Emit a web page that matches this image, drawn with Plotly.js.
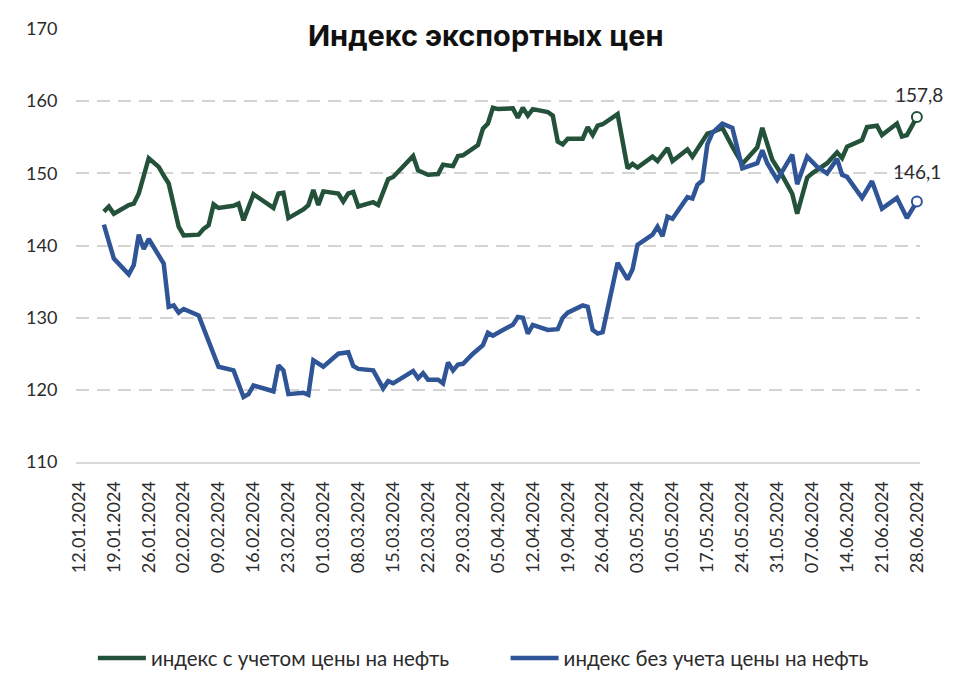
<!DOCTYPE html>
<html>
<head>
<meta charset="utf-8">
<script src="https://cdn.plot.ly/plotly-3.0.1.min.js"></script>
<style>html,body{margin:0;padding:0;background:#fff;}#chart{width:974px;height:687px;}</style>
</head>
<body>
<div id="chart"></div>
<script>
// ---- data ----
const chartTitle = "Индекс экспортных цен";
const seriesNames = ["индекс с учетом цены на нефть", "индекс без учета цены на нефть"];

const datesWithOil = [
 "2024-01-17","2024-01-18","2024-01-19","2024-01-22","2024-01-23","2024-01-24","2024-01-26","2024-01-28","2024-01-29","2024-01-30",
 "2024-02-01","2024-02-02","2024-02-05","2024-02-06","2024-02-07","2024-02-08","2024-02-09","2024-02-12","2024-02-13","2024-02-14",
 "2024-02-16","2024-02-20","2024-02-21","2024-02-22","2024-02-23","2024-02-26","2024-02-27","2024-02-28","2024-02-29","2024-03-01",
 "2024-03-04","2024-03-05","2024-03-06","2024-03-07","2024-03-08","2024-03-11","2024-03-12","2024-03-14","2024-03-15","2024-03-19",
 "2024-03-20","2024-03-22","2024-03-24","2024-03-25","2024-03-27","2024-03-28","2024-03-29","2024-04-01","2024-04-02","2024-04-03",
 "2024-04-04","2024-04-05","2024-04-08","2024-04-09","2024-04-10","2024-04-11","2024-04-12","2024-04-15","2024-04-16","2024-04-17",
 "2024-04-18","2024-04-19","2024-04-22","2024-04-23","2024-04-24","2024-04-25","2024-04-26","2024-04-29","2024-05-01","2024-05-02",
 "2024-05-03","2024-05-06","2024-05-07","2024-05-09","2024-05-10","2024-05-13","2024-05-14","2024-05-15","2024-05-17","2024-05-18",
 "2024-05-20","2024-05-22","2024-05-24","2024-05-27","2024-05-28","2024-05-30","2024-06-01","2024-06-03","2024-06-04","2024-06-06",
 "2024-06-07","2024-06-10","2024-06-12","2024-06-13","2024-06-14","2024-06-17","2024-06-18","2024-06-20","2024-06-21","2024-06-24",
 "2024-06-25","2024-06-26","2024-06-28"
];
const valuesWithOil = [
 144.7,145.4,144.4,145.6,145.8,147.2,152.1,150.9,149.7,148.6,
 142.6,141.4,141.5,142.3,142.8,145.7,145.2,145.5,145.8,143.5,
 147.1,145.2,147.2,147.3,143.8,145.0,145.6,147.7,145.6,147.5,
 147.2,146.1,147.2,147.4,145.4,146.0,145.6,149.2,149.5,152.4,
 150.4,149.8,149.9,151.2,151.0,152.4,152.5,153.9,156.2,156.9,
 159.1,158.9,159.0,157.7,159.1,158.0,158.9,158.5,158.0,154.4,
 154.0,154.8,154.8,156.4,155.3,156.6,156.8,158.2,150.7,151.3,
 150.8,152.3,151.7,153.5,151.7,153.3,152.3,153.3,155.5,155.7,
 156.3,153.7,151.3,153.6,156.3,151.9,149.7,147.2,144.4,149.4,
 150.0,151.4,152.9,152.1,153.7,154.6,156.4,156.6,155.3,156.9,
 155.1,155.3,157.8
];

const datesNoOil = [
 "2024-01-17","2024-01-19","2024-01-22","2024-01-23","2024-01-24","2024-01-25","2024-01-26","2024-01-29","2024-01-30","2024-01-31",
 "2024-02-01","2024-02-02","2024-02-05","2024-02-09","2024-02-12","2024-02-14","2024-02-15","2024-02-16","2024-02-20","2024-02-21",
 "2024-02-22","2024-02-23","2024-02-26","2024-02-27","2024-02-28","2024-03-01","2024-03-04","2024-03-06","2024-03-07","2024-03-08",
 "2024-03-11","2024-03-13","2024-03-14","2024-03-15","2024-03-19","2024-03-20","2024-03-21","2024-03-22","2024-03-24","2024-03-25",
 "2024-03-26","2024-03-27","2024-03-28","2024-03-29","2024-03-31","2024-04-02","2024-04-03","2024-04-04","2024-04-06","2024-04-08",
 "2024-04-09","2024-04-10","2024-04-11","2024-04-12","2024-04-15","2024-04-17","2024-04-18","2024-04-19","2024-04-22","2024-04-23",
 "2024-04-24","2024-04-25","2024-04-26","2024-04-29","2024-05-01","2024-05-02","2024-05-03","2024-05-06","2024-05-07","2024-05-08",
 "2024-05-09","2024-05-10","2024-05-13","2024-05-14","2024-05-15","2024-05-16","2024-05-17","2024-05-18","2024-05-20","2024-05-22",
 "2024-05-24","2024-05-27","2024-05-28","2024-05-29","2024-05-31","2024-06-03","2024-06-04","2024-06-06","2024-06-08","2024-06-10",
 "2024-06-12","2024-06-13","2024-06-14","2024-06-17","2024-06-19","2024-06-21","2024-06-24","2024-06-26","2024-06-28"
];
const valuesNoOil = [
 142.9,138.2,136.0,137.3,141.5,139.5,140.9,137.5,131.5,131.7,
 130.7,131.2,130.3,123.2,122.7,119.0,119.4,120.6,119.8,123.4,
 122.7,119.4,119.6,119.3,124.1,123.2,125.0,125.2,123.3,122.9,
 122.7,120.2,121.2,120.9,122.6,121.6,122.3,121.4,121.4,120.9,
 123.8,122.7,123.5,123.6,125.0,126.2,127.9,127.5,128.3,129.0,
 130.1,130.0,127.8,129.0,128.3,128.4,130.0,130.7,131.7,131.5,
 128.3,127.8,128.0,137.6,135.3,136.7,140.1,141.5,142.6,141.3,
 144.0,143.7,146.7,146.5,148.4,149.0,154.0,155.6,156.9,156.3,
 150.7,151.4,153.2,151.4,149.1,152.6,148.5,152.3,150.9,150.0,
 152.0,149.8,149.5,146.6,148.9,145.1,146.6,143.8,146.1
];

const yTicks = [110, 120, 130, 140, 150, 160, 170];
const xTickDates = [
 "2024-01-12","2024-01-19","2024-01-26","2024-02-02","2024-02-09","2024-02-16","2024-02-23","2024-03-01",
 "2024-03-08","2024-03-15","2024-03-22","2024-03-29","2024-04-05","2024-04-12","2024-04-19","2024-04-26",
 "2024-05-03","2024-05-10","2024-05-17","2024-05-24","2024-05-31","2024-06-07","2024-06-14","2024-06-21","2024-06-28"
];

// ---- styles ----
const GREEN = "#24513a";
const BLUE = "#2f5597";
const TXT = "#2b2b2b";
const FONT = "Lato, 'Open Sans', sans-serif";

function lastIdx(a){ return a.length - 1; }
function fmt(v){ return v.toFixed(1).replace(".", ","); }

const traces = [
 {
  x: datesWithOil, y: valuesWithOil, type: "scatter", mode: "lines",
  name: seriesNames[0], legend: "legend", line: {color: GREEN, width: 4.5, shape: "linear"}
 },
 {
  x: datesNoOil, y: valuesNoOil, type: "scatter", mode: "lines",
  name: seriesNames[1], legend: "legend2", line: {color: BLUE, width: 4.5, shape: "linear"}
 },
 {
  x: [datesWithOil[lastIdx(datesWithOil)]], y: [valuesWithOil[lastIdx(valuesWithOil)]],
  type: "scatter", mode: "markers", showlegend: false, hoverinfo: "skip", cliponaxis: false,
  marker: {size: 10, color: "#ffffff", line: {color: GREEN, width: 2}}
 },
 {
  x: [datesNoOil[lastIdx(datesNoOil)]], y: [valuesNoOil[lastIdx(valuesNoOil)]],
  type: "scatter", mode: "markers", showlegend: false, hoverinfo: "skip", cliponaxis: false,
  marker: {size: 10, color: "#ffffff", line: {color: BLUE, width: 2}}
 }
];

const legendBase = {
 orientation: "h", xanchor: "left", y: -0.453, yanchor: "middle",
 font: {family: FONT, size: 20.5, color: TXT}, itemwidth: 48, bgcolor: "rgba(0,0,0,0)"
};

const layout = {
 width: 974, height: 687,
 margin: {l: 76, r: 54, t: 29, b: 225, autoexpand: false},
 paper_bgcolor: "#ffffff", plot_bgcolor: "#ffffff",
 font: {family: FONT, color: TXT, size: 17},
 showlegend: true,
 legend: Object.assign({}, legendBase, {x: 0.02}),
 legend2: Object.assign({}, legendBase, {x: 0.509}),
 xaxis: {
  type: "date",
  range: ["2024-01-11 10:00", "2024-06-28 15:00"],
  tickmode: "array", tickvals: xTickDates, tickformat: "%d.%m.%Y",
  tickangle: -90, tickfont: {family: FONT, size: 18, color: TXT},
  ticks: "outside", ticklen: 10, tickcolor: "rgba(0,0,0,0)",
  showgrid: false, zeroline: false, automargin: false,
  showline: true, linecolor: "#d9d9d9", linewidth: 2
 },
 yaxis: {
  range: [110, 170], tickmode: "array", tickvals: yTicks,
  tickfont: {family: FONT, size: 18, color: TXT},
  ticks: "outside", ticklen: 14, tickcolor: "rgba(0,0,0,0)",
  showgrid: true, gridcolor: "#d4d4d4", gridwidth: 2, griddash: "13px,8px",
  zeroline: false, showline: false, automargin: false
 },
 annotations: [
  {
   text: "<b>" + chartTitle + "</b>", xref: "paper", yref: "paper",
   x: 0.486, y: 0.984, xanchor: "center", yanchor: "middle", showarrow: false,
   font: {family: "Inter, 'Open Sans', sans-serif", size: 29, color: "#111111", weight: 800},
   bgcolor: "#ffffff"
  },
  {
   text: fmt(valuesWithOil[lastIdx(valuesWithOil)]), xref: "x", yref: "y",
   x: datesWithOil[lastIdx(datesWithOil)], y: valuesWithOil[lastIdx(valuesWithOil)],
   showarrow: false, yshift: 23, xshift: 2, font: {family: FONT, size: 19, color: TXT}
  },
  {
   text: fmt(valuesNoOil[lastIdx(valuesNoOil)]), xref: "x", yref: "y",
   x: datesNoOil[lastIdx(datesNoOil)], y: valuesNoOil[lastIdx(valuesNoOil)],
   showarrow: false, yshift: 30, xshift: 0, font: {family: FONT, size: 19, color: TXT}
  }
 ]
};

Plotly.newPlot("chart", traces, layout, {displayModeBar: false, staticPlot: true});
</script>
</body>
</html>
